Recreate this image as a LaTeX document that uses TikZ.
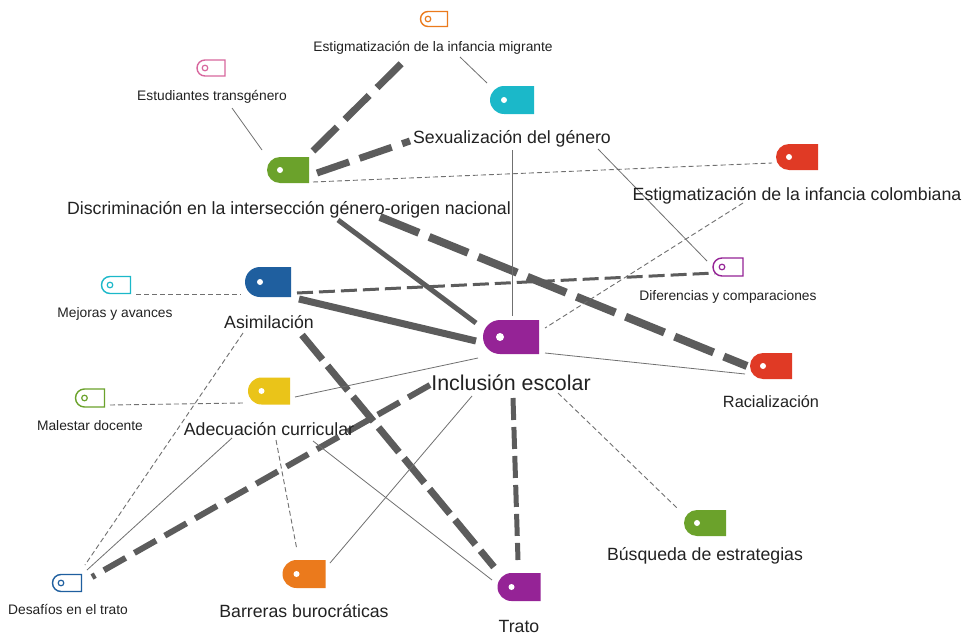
\documentclass[tikz,border=0pt]{standalone}
\usepackage{fontspec}
\setmainfont{Liberation Sans}
\usetikzlibrary{shapes.misc,backgrounds}
\definecolor{cgreen}{HTML}{6BA22B}
\definecolor{ccyan}{HTML}{1BB8C9}
\definecolor{cred}{HTML}{E03A25}
\definecolor{cblue}{HTML}{1F5F9F}
\definecolor{cpurple}{HTML}{952396}
\definecolor{cyellow}{HTML}{EAC419}
\definecolor{corange}{HTML}{EB7A1C}
\definecolor{cpink}{HTML}{D8679E}
\definecolor{lthick}{HTML}{5C5C5C}
\definecolor{lthin}{HTML}{707070}
\definecolor{ctext}{HTML}{222222}
\begin{document}
\begin{tikzpicture}[x=1pt,y=-1pt,
  ftag/.style n args={4}{rounded rectangle, rounded rectangle right arc=none, fill=#1,
    inner sep=0pt, minimum width=#2, minimum height=#3,
    path picture={\fill[white] ([xshift=#3/2]path picture bounding box.west) circle (#4);}},
  otag/.style n args={3}{rounded rectangle, rounded rectangle right arc=none, draw=#1,
    line width=1.4pt, inner sep=0pt, minimum width=#2, minimum height=#3,
    path picture={\draw[#1, line width=1.2pt] ([xshift=#3/2]path picture bounding box.west) circle (2.8pt);}},
  lab/.style={font=\fontsize{#1}{#1}\selectfont, inner sep=0pt, anchor=base, text=ctext},
  thickdash/.style={draw=lthick, line width=7pt, dash pattern=on 34pt off 11pt},
  thicksolid/.style={draw=lthick, line width=6pt},
  meddash/.style={draw=lthick, line width=3pt, dash pattern=on 16pt off 6pt},
  thindash/.style={draw=lthin, line width=0.9pt, dash pattern=on 5pt off 3pt},
  thinline/.style={draw=lthin, line width=0.8pt}]
\useasboundingbox (0,0) rectangle (969,634);
% tags
\node[otag={corange}{27pt}{15pt}] (Tmig) at (434,19) {};
\node[otag={cpink}{28pt}{16pt}] (Ttra) at (211,68) {};
\node[ftag={ccyan}{44pt}{28pt}{3pt}] (Tsex) at (512,100) {};
\node[ftag={cgreen}{42pt}{26pt}{3pt}] (Tdis) at (288,170) {};
\node[ftag={cred}{42pt}{26pt}{3pt}] (Tcol) at (797,157) {};
\node[otag={cpurple}{30pt}{18pt}] (Tdif) at (728,267) {};
\node[otag={ccyan}{29pt}{17pt}] (Tmej) at (116,285) {};
\node[ftag={cblue}{46pt}{30pt}{3pt}] (Tasi) at (268,282) {};
\node[ftag={cpurple}{56pt}{34pt}{4pt}] (Tinc) at (511,337) {};
\node[ftag={cred}{42pt}{26pt}{3pt}] (Trac) at (771,366) {};
\node[otag={cgreen}{29pt}{18pt}] (Tmal) at (90,398) {};
\node[ftag={cyellow}{42pt}{27pt}{3pt}] (Tade) at (269,391) {};
\node[ftag={cgreen}{42pt}{26pt}{3pt}] (Tbus) at (705,523) {};
\node[otag={cblue}{29pt}{17pt}] (Tdes) at (67,583) {};
\node[ftag={corange}{43pt}{28pt}{3pt}] (Tbar) at (304,574) {};
\node[ftag={cpurple}{43pt}{28pt}{3pt}] (Ttr) at (519,587) {};
% labels
\node[lab=13.8] (Lmig) at (433,52) {Estigmatización de la infancia migrante};
\node[lab=13.8] (Ltra) at (212,100) {Estudiantes transgénero};
\node[lab=17.7] (Lsex) at (512,143) {Sexualización del género};
\node[lab=17.7] (Ldis) at (289,214) {Discriminación en la intersección género-origen nacional};
\node[lab=17.7] (Lcol) at (797,200) {Estigmatización de la infancia colombiana};
\node[lab=13.8] (Ldif) at (728,300) {Diferencias y comparaciones};
\node[lab=13.8] (Lmej) at (115,317) {Mejoras y avances};
\node[lab=17.7] (Lasi) at (269,328) {Asimilación};
\node[lab=21.4] (Linc) at (511,390) {Inclusión escolar};
\node[lab=16.3] (Lrac) at (771,407) {Racialización};
\node[lab=13.8] (Lmal) at (90,430) {Malestar docente};
\node[lab=17.7] (Lade) at (269,435) {Adecuación curricular};
\node[lab=17.7] (Lbus) at (705,560) {Búsqueda de estrategias};
\node[lab=13.8] (Ldes) at (68,614) {Desafíos en el trato};
\node[lab=17.7] (Lbar) at (304,617) {Barreras burocráticas};
\node[lab=17.7] (Ltr) at (519,632) {Trato};
% connectors
\begin{scope}[on background layer]
\fill[white] (0,0) rectangle (969,634);
\draw[thickdash] ([shift={(25,-19)}]Tdis.center) -- ([shift={(-26,6)}]Lmig.base);
\draw[thickdash] ([shift={(29,3)}]Tdis.center) -- ([shift={(-102,-2)}]Lsex.base);
\draw[thickdash, line width=8pt, dash pattern=on 42pt off 11pt] ([shift={(91,3)}]Ldis.base) -- ([shift={(-24,0)}]Trac.center);
\draw[thicksolid, line width=5pt] ([shift={(49,6)}]Ldis.base) -- ([shift={(-35,-14)}]Tinc.center);
\draw[thicksolid, line width=7pt] ([shift={(31,17)}]Tasi.center) -- ([shift={(-35,4)}]Tinc.center);
\draw[meddash] ([shift={(29,11)}]Tasi.center) -- ([shift={(-13,6)}]Tdif.center);
\draw[thickdash, dash pattern=on 32pt off 8pt] ([shift={(33,7)}]Lasi.base) -- ([shift={(-25,-20)}]Ttr.center);
\draw[thickdash, line width=5pt, dash pattern=on 22pt off 7pt] ([shift={(2,8)}]Linc.base) -- ([shift={(-1,-27)}]Ttr.center);
\draw[thickdash, line width=6pt, dash pattern=on 25pt off 10pt] ([shift={(-81,-5)}]Linc.base) -- ([shift={(25,-6)}]Tdes.center);
\draw[thinline] ([shift={(20,8)}]Ltra.base) -- ([shift={(-26,-20)}]Tdis.center);
\draw[thindash] ([shift={(25,12)}]Tdis.center) -- ([shift={(-25,6)}]Tcol.center);
\draw[thindash] ([shift={(20,9)}]Tmej.center) -- ([shift={(-27,12)}]Tasi.center);
\draw[thindash] ([shift={(20,7)}]Tmal.center) -- ([shift={(-26,12)}]Tade.center);
\draw[thinline] ([shift={(27,5)}]Lmig.base) -- ([shift={(-25,-17)}]Tsex.center);
\draw[thinline] ([shift={(86,6)}]Lsex.base) -- ([shift={(-21,-6)}]Tdif.center);
\draw[thinline] ([shift={(0,7)}]Lsex.base) -- ([shift={(1,-21)}]Tinc.center);
\draw[thindash] ([shift={(-54,3)}]Lcol.base) -- ([shift={(34,-9)}]Tinc.center);
\draw[thinline] ([shift={(34,16)}]Tinc.center) -- ([shift={(-26,8)}]Trac.center);
\draw[thindash] ([shift={(47,3)}]Linc.base) -- ([shift={(-28,-15)}]Tbus.center);
\draw[thinline] ([shift={(-39,6)}]Linc.base) -- ([shift={(26,-11)}]Tbar.center);
\draw[thinline] ([shift={(26,6)}]Tade.center) -- ([shift={(-33,21)}]Tinc.center);
\draw[thindash] ([shift={(-26,5)}]Lasi.base) -- ([shift={(18,-18)}]Tdes.center);
\draw[thinline] ([shift={(-37,3)}]Lade.base) -- ([shift={(20,-13)}]Tdes.center);
\draw[thindash] ([shift={(7,5)}]Lade.base) -- ([shift={(-7,-24)}]Tbar.center);
\draw[thinline] ([shift={(44,6)}]Lade.base) -- ([shift={(-27,-7)}]Ttr.center);
\end{scope}
\end{tikzpicture}
\end{document}
